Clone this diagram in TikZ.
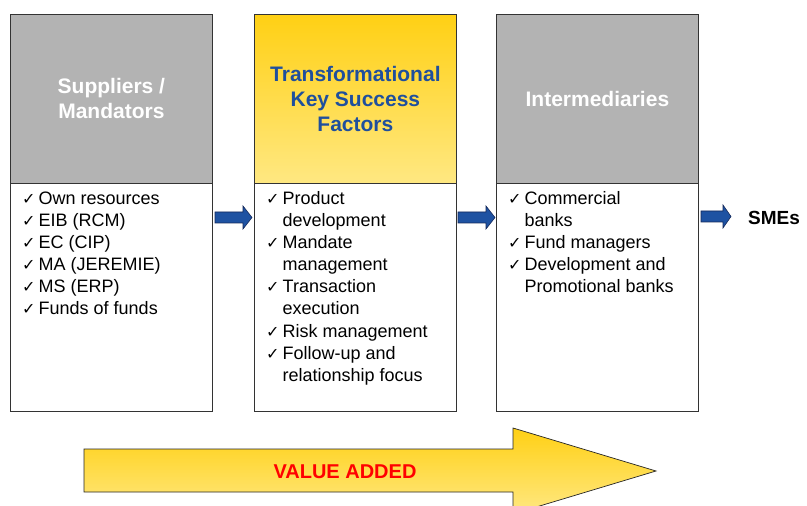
\documentclass[tikz,border=0pt]{standalone}
\usepackage{fontspec}
\setmainfont{Liberation Sans}
\newfontfamily\chkfont{DejaVu Sans}
\definecolor{hdrgray}{RGB}{179,179,179}
\definecolor{ttlblue}{RGB}{31,79,157}
\definecolor{arrblue}{RGB}{30,82,162}
\definecolor{arredge}{RGB}{20,40,90}
\definecolor{goldtop}{RGB}{255,208,20}
\definecolor{goldbot}{RGB}{255,232,130}
\definecolor{vared}{RGB}{255,0,0}
\newcommand{\ck}{\makebox[16.5bp][l]{\chkfont\fontsize{16bp}{16bp}\selectfont ✓}}
\newcommand{\lst}[1]{\renewcommand{\arraystretch}{1}\begin{tabular}[t]{@{}l@{}l@{}}#1\end{tabular}}
\newcommand{\blockarrow}[4]{% x1, x2, yc, headlength
  \filldraw[fill=arrblue, draw=arredge, line width=0.6bp]
    (#1,#3-5.5) -- (#2-#4,#3-5.5) -- (#2-#4,#3-11.5) -- (#2,#3) -- (#2-#4,#3+11.5)
    -- (#2-#4,#3+5.5) -- (#1,#3+5.5) -- cycle;}
\begin{document}
\begin{tikzpicture}[x=1bp,y=-1bp,
  header/.style={draw=black!80, line width=0.8bp, minimum width=202bp, minimum height=169bp,
    anchor=north west, inner sep=0pt, align=center, font=\fontsize{21bp}{25bp}\selectfont\bfseries},
  grayhdr/.style={header, fill=hdrgray, text=white},
  goldhdr/.style={header, top color=goldtop, bottom color=goldbot, text=ttlblue},
  body/.style={draw=black!80, line width=0.8bp, fill=white, minimum width=202bp, minimum height=228bp,
    anchor=north west, inner sep=0pt},
  items/.style={anchor=base west, inner sep=0pt, font=\fontsize{18bp}{22bp}\selectfont}
]
\clip (0,0) rectangle (807,506);
\fill[white] (0,0) rectangle (807,506);

% boxes
\node[body] (b1) at (10,183) {};
\node[body] (b2) at (254,183) {};
\node[body] (b3) at (496,183) {};
\node[grayhdr] (h1) at (10,14) {Suppliers /\\Mandators};
\node[goldhdr] (h2) at (254,14) {Transformational\\Key Success\\Factors};
\node[grayhdr] (h3) at (496,14) {Intermediaries};

% lists
\node[items] (l1) at (22,205) {\lst{\ck & Own resources\\ \ck & EIB (RCM)\\ \ck & EC (CIP)\\ \ck & MA (JEREMIE)\\ \ck & MS (ERP)\\ \ck & Funds of funds}};
\node[items] (l2) at (266,205) {\lst{\ck & Product\\ & development\\ \ck & Mandate\\ & management\\ \ck & Transaction\\ & execution\\ \ck & Risk management\\ \ck & Follow-up and\\ & relationship focus}};
\node[items] (l3) at (508,205) {\lst{\ck & Commercial\\ & banks\\ \ck & Fund managers\\ \ck & Development and\\ & Promotional banks}};

% small arrows
\blockarrow{215}{252}{217.5}{9}
\blockarrow{458}{495}{217.5}{9}
\blockarrow{701}{731}{216.5}{8}

\node[anchor=west, inner sep=0pt, font=\fontsize{19bp}{22bp}\selectfont\bfseries] (sme) at (748,218) {SMEs};

% value added arrow
\shade[top color=goldtop, bottom color=goldbot, draw=black!85, line width=0.7bp]
  (84,449) -- (513,449) -- (513,428) -- (656,471) -- (513,514) -- (513,492) -- (84,492) -- cycle;
\node[font=\fontsize{20bp}{22bp}\selectfont\bfseries, text=vared] (va) at (345,472) {VALUE ADDED};
\end{tikzpicture}
\end{document}
